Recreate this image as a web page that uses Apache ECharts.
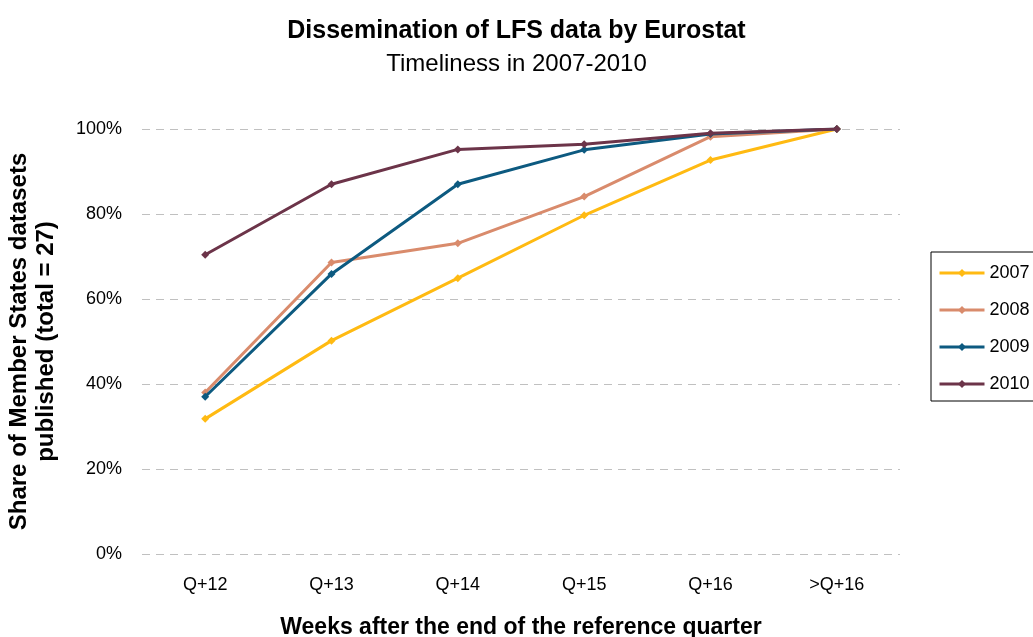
<!DOCTYPE html>
<html><head><meta charset="utf-8">
<script src="https://cdn.jsdelivr.net/npm/echarts@6/dist/echarts.min.js"></script>
<style>html,body{margin:0;padding:0;background:#fff}#c{width:1033px;height:637px}</style>
</head><body><div id="c"></div>
<script>
const categories = ['Q+12','Q+13','Q+14','Q+15','Q+16','>Q+16'];
const s2007 = [31.8, 50.2, 64.9, 79.7, 92.7, 100];
const s2008 = [38.0, 68.6, 73.1, 84.1, 98.2, 100];
const s2009 = [37.0, 65.9, 87.0, 95.1, 98.8, 100];
const s2010 = [70.4, 87.0, 95.2, 96.4, 99.0, 100];
const yTicks = [0, 20, 40, 60, 80, 100];
const seriesNames = ['2007','2008','2009','2010'];
const colors = ['#FFBA12','#D98B6C','#0D5A80','#6C3449'];

const font = 'Liberation Sans, Arial, sans-serif';
const data = [s2007, s2008, s2009, s2010];
const chart = echarts.init(document.getElementById('c'));
chart.setOption({
  animation: false,
  title: {
    text: 'Dissemination of LFS data by Eurostat',
    subtext: 'Timeliness in 2007-2010',
    left: 'center', top: 14, itemGap: 8,
    textStyle: {fontFamily: font, fontSize: 25, fontWeight: 'bold', color: '#000'},
    subtextStyle: {fontFamily: font, fontSize: 24, color: '#000'}
  },
  legend: {
    orient: 'vertical', left: 931, top: 252,
    data: seriesNames,
    itemWidth: 45, itemHeight: 10, itemGap: 19,
    padding: [12, 20, 8, 7],
    borderColor: '#000', borderWidth: 1,
    lineStyle: {width: 3},
    textStyle: {fontFamily: font, fontSize: 18, color: '#000'}
  },
  grid: {left: 142, right: 133, top: 129, bottom: 83, containLabel: false, outerBoundsMode: 'none'},
  xAxis: {
    type: 'category', data: categories, boundaryGap: true,
    axisLine: {show: false}, axisTick: {show: false},
    axisLabel: {fontFamily: font, fontSize: 18, color: '#000', margin: 22},
    name: 'Weeks after the end of the reference quarter',
    nameLocation: 'middle', nameGap: 62,
    nameTextStyle: {fontFamily: font, fontSize: 23, fontWeight: 'bold', color: '#000'}
  },
  yAxis: {
    type: 'value', min: 0, max: 100, interval: 20,
    axisLabel: {fontFamily: font, fontSize: 18, color: '#000', margin: 20,
      formatter: v => yTicks.includes(v) ? v + '%' : ''},
    splitLine: {lineStyle: {color: '#c0c0c0', type: [8, 6], width: 1}},
    name: 'Share of Member States datasets\npublished (total = 27)',
    nameLocation: 'middle', nameGap: 82, nameRotate: 90,
    nameTextStyle: {fontFamily: font, fontSize: 24, fontWeight: 'bold', color: '#000', lineHeight: 27}
  },
  series: seriesNames.map((n, i) => ({
    name: n, type: 'line', data: data[i],
    symbol: 'diamond', symbolSize: 8, showSymbol: true,
    lineStyle: {width: 3, color: colors[i]},
    itemStyle: {color: colors[i]},
    z: 2 + i
  }))
});
</script></body></html>
